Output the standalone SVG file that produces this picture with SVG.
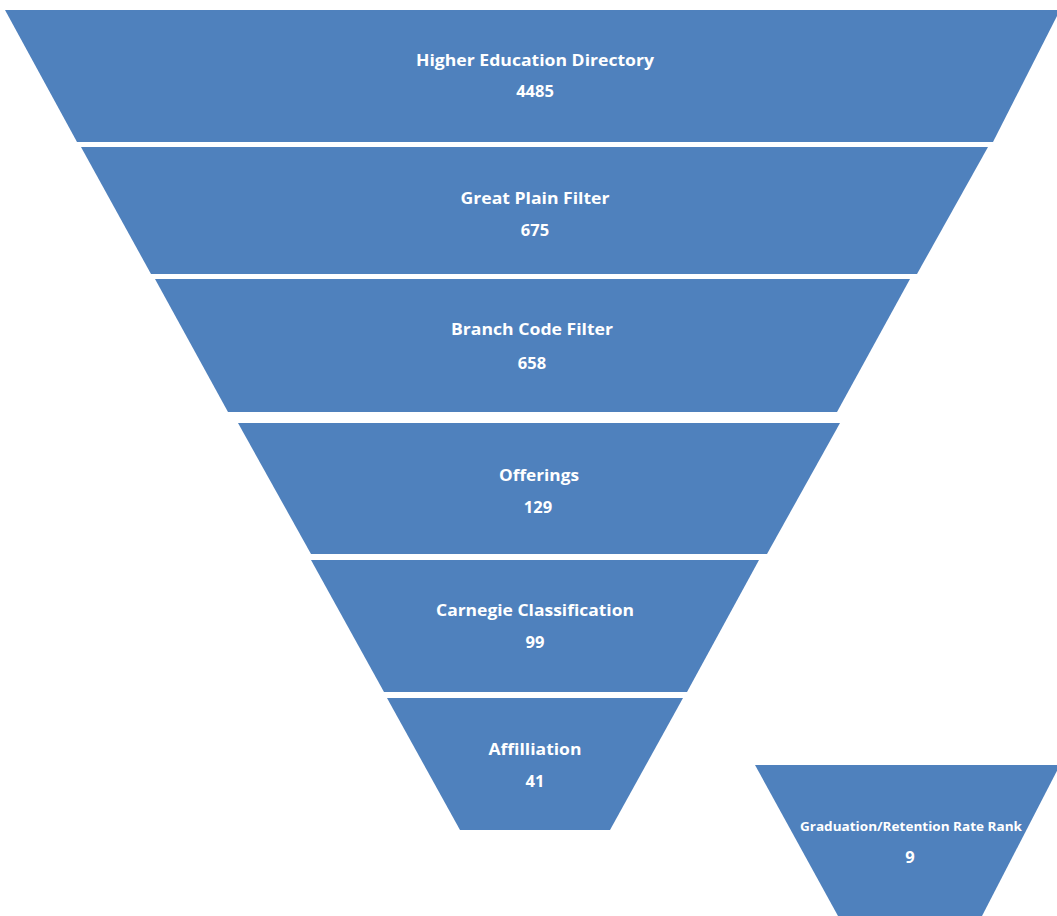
<svg xmlns="http://www.w3.org/2000/svg" width="1057" height="916" viewBox="0 0 1057 916">
<style>
.seg{fill:#4F81BD;}
.t{fill:#FFFFFF;font-family:"Open Sans","Liberation Sans",sans-serif;font-weight:bold;font-size:16.5px;text-anchor:middle;}
.s{font-size:12.5px;}
</style>
<rect width="1057" height="916" fill="#FFFFFF"/>
<g id="node-higher-education-directory">
<polygon class="seg" points="5,10 1060,10 993,142 77,142"/>
<text class="t" x="535" y="66" textLength="238" lengthAdjust="spacingAndGlyphs">Higher Education Directory</text>
<text class="t" x="535" y="97">4485</text>
</g>
<g id="node-great-plain-filter">
<polygon class="seg" points="81,147 988,147 917,274 151,274"/>
<text class="t" x="535" y="204" textLength="149" lengthAdjust="spacingAndGlyphs">Great Plain Filter</text>
<text class="t" x="535" y="236">675</text>
</g>
<g id="node-branch-code-filter">
<polygon class="seg" points="155,279 910,279 837,412 228,412"/>
<text class="t" x="532" y="335" textLength="162" lengthAdjust="spacingAndGlyphs">Branch Code Filter</text>
<text class="t" x="532" y="369">658</text>
</g>
<g id="node-offerings">
<polygon class="seg" points="238,423 840,423 767,554 311,554"/>
<text class="t" x="539" y="481" textLength="80" lengthAdjust="spacingAndGlyphs">Offerings</text>
<text class="t" x="538" y="513">129</text>
</g>
<g id="node-carnegie-classification">
<polygon class="seg" points="311,560 759,560 687,692 384,692"/>
<text class="t" x="535" y="616" textLength="198" lengthAdjust="spacingAndGlyphs">Carnegie Classification</text>
<text class="t" x="535" y="648">99</text>
</g>
<g id="node-affiliation">
<polygon class="seg" points="387,698 683,698 610,830 460,830"/>
<text class="t" x="535" y="755" textLength="93" lengthAdjust="spacingAndGlyphs">Affilliation</text>
<text class="t" x="535" y="787">41</text>
</g>
<g id="node-graduation-retention-rate-rank">
<polygon class="seg" points="755,765 1060,765 982,916 838,916"/>
<text class="t s" x="911" y="831" textLength="222" lengthAdjust="spacingAndGlyphs">Graduation/Retention Rate Rank</text>
<text class="t" x="910" y="863">9</text>
</g>
<g id="connectors"></g>
</svg>
